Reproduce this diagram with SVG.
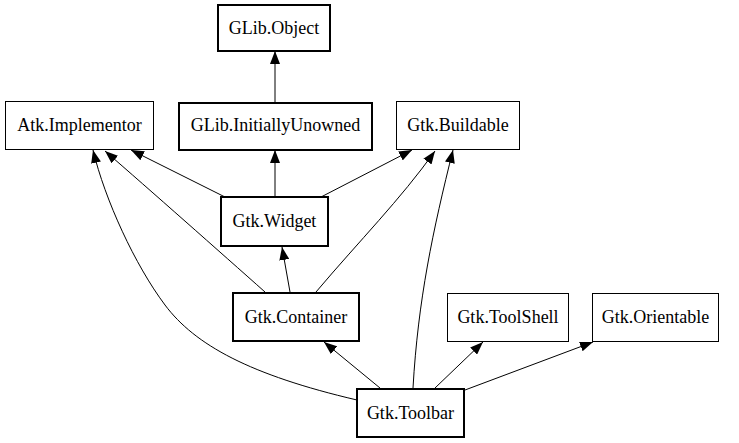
<svg xmlns="http://www.w3.org/2000/svg" width="739" height="443" viewBox="0 0 739 443">
<style>
.n{fill:#fff;stroke:#000;stroke-width:1}
.b{fill:#fff;stroke:#000;stroke-width:2}
.t{font-family:'Liberation Serif','Times New Roman',serif;font-size:18px;text-anchor:middle;fill:#000}
.e{fill:none;stroke:#000;stroke-width:1}
</style>
<defs>
<marker id="a" viewBox="0 0 13 10" refX="13" refY="5" markerWidth="13" markerHeight="10" markerUnits="userSpaceOnUse" orient="auto">
<path d="M0,0 L13,5 L0,10 Z" fill="#000"/>
</marker>
</defs>
<rect width="739" height="443" fill="#fff"/>
<g id="edges">
<path class="e" marker-end="url(#a)" d="M275,103 L275,51"/>
<path class="e" marker-end="url(#a)" d="M275,197 L275,150"/>
<path class="e" marker-end="url(#a)" d="M225,197 L131,150"/>
<path class="e" marker-end="url(#a)" d="M321,197 L412,150"/>
<path class="e" marker-end="url(#a)" d="M290,292 L282,247"/>
<path class="e" marker-end="url(#a)" d="M265,292 C220,252 150,190 105,151"/>
<path class="e" marker-end="url(#a)" d="M316,292 C360,240 400,200 435,151"/>
<path class="e" marker-end="url(#a)" d="M380,388 L324,342"/>
<path class="e" marker-end="url(#a)" d="M357,400 C250,375 195,345 165,305 C135,265 105,200 93,150"/>
<path class="e" marker-end="url(#a)" d="M413,388 C418,300 433,230 453,150"/>
<path class="e" marker-end="url(#a)" d="M435,388 L483,342"/>
<path class="e" marker-end="url(#a)" d="M465,390 L593,342"/>
</g>
<g id="glib-object"><rect class="b" x="218" y="5" width="112" height="46"/><text class="t" x="274" y="34">GLib.Object</text></g>
<g id="glib-initiallyunowned"><rect class="b" x="179" y="103" width="193" height="47"/><text class="t" x="275.5" y="131">GLib.InitiallyUnowned</text></g>
<g id="atk-implementor"><rect class="n" x="5.5" y="101.5" width="148" height="48"/><text class="t" x="79.5" y="131">Atk.Implementor</text></g>
<g id="gtk-buildable"><rect class="n" x="396.5" y="101.5" width="123" height="48"/><text class="t" x="458" y="131">Gtk.Buildable</text></g>
<g id="gtk-widget"><rect class="b" x="221" y="197" width="107" height="49"/><text class="t" x="274.5" y="227">Gtk.Widget</text></g>
<g id="gtk-container"><rect class="b" x="233" y="293" width="126" height="48"/><text class="t" x="296" y="323">Gtk.Container</text></g>
<g id="gtk-toolshell"><rect class="n" x="447.5" y="293.5" width="121" height="48"/><text class="t" x="508" y="323">Gtk.ToolShell</text></g>
<g id="gtk-orientable"><rect class="n" x="592.5" y="293.5" width="126" height="48"/><text class="t" x="655.5" y="323">Gtk.Orientable</text></g>
<g id="gtk-toolbar"><rect class="b" x="357" y="389" width="107" height="48"/><text class="t" x="410.5" y="419">Gtk.Toolbar</text></g>
</svg>
